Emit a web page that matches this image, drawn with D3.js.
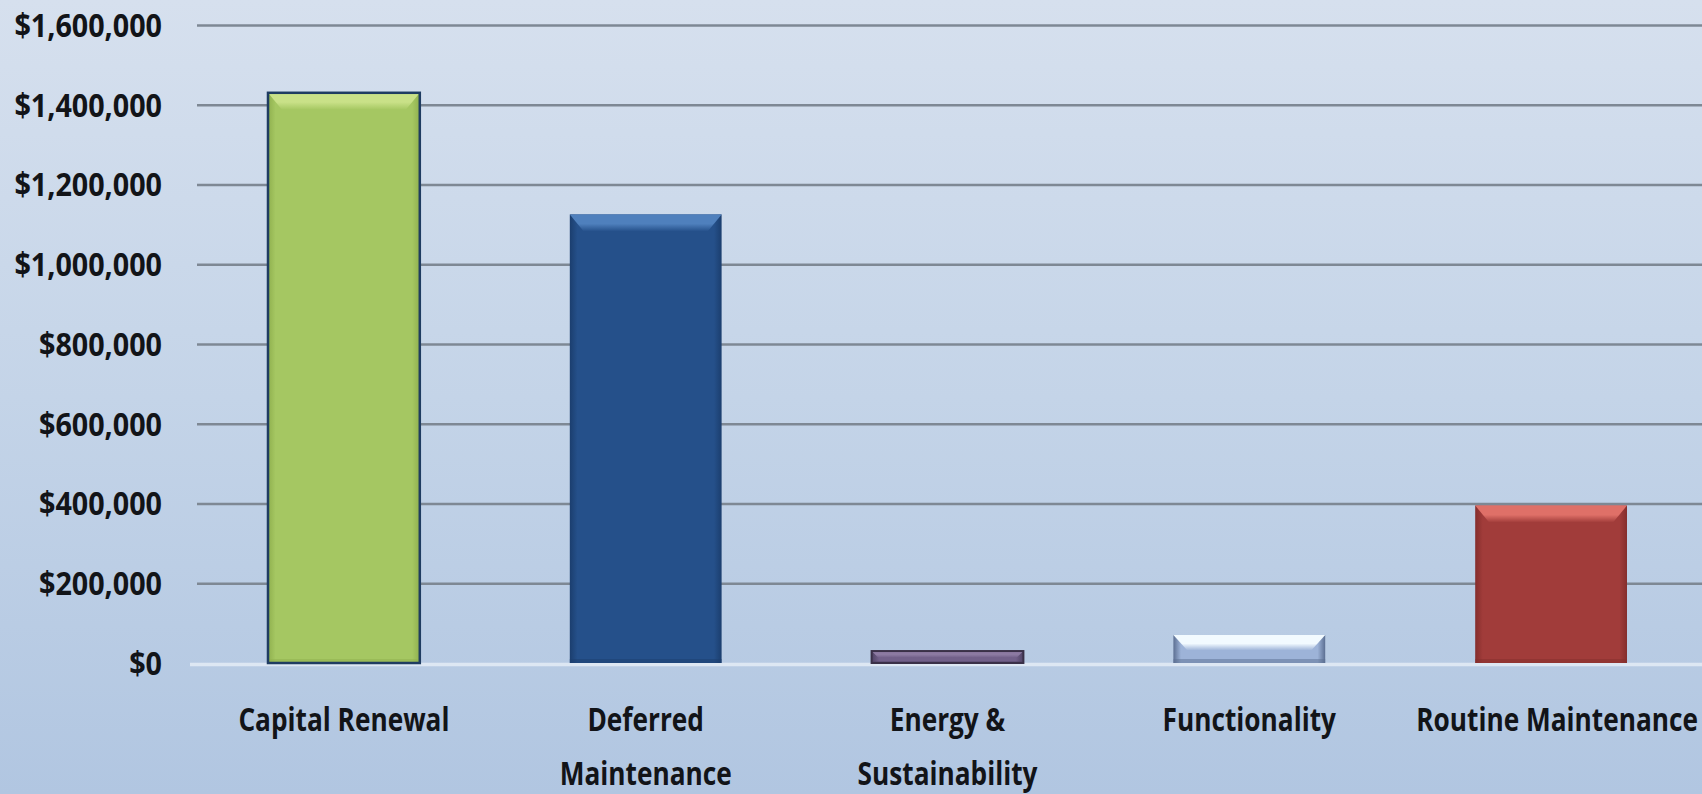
<!DOCTYPE html>
<html>
<head>
<meta charset="utf-8">
<script src="https://cdn.jsdelivr.net/npm/d3@7"></script>
<style>
  html, body { margin: 0; padding: 0; overflow: hidden; }
  svg { display: block; }
</style>
</head>
<body>
<svg id="chart" width="1702" height="794"></svg>
<script>
// Cost by category
const categories = ["Capital Renewal", "Deferred Maintenance", "Energy & Sustainability", "Functionality", "Routine Maintenance"];
const labelLines = [["Capital Renewal"], ["Deferred", "Maintenance"], ["Energy &", "Sustainability"], ["Functionality"], ["Routine Maintenance"]];
const values = [1430000, 1125000, 30000, 70000, 395000];
const tickValues = [0, 200000, 400000, 600000, 800000, 1000000, 1200000, 1400000, 1600000];
const tickLabels = ["$0", "$200,000", "$400,000", "$600,000", "$800,000", "$1,000,000", "$1,200,000", "$1,400,000", "$1,600,000"];

// bar styling: base fill, bevel highlight, edge shade, outline
const barStyles = [
  { fill: "#a5c762", light: "#c9e188", edge: "#8fb04e", stroke: "#1f3c61", sw: 2.5 },
  { fill: "#25508a", light: "#4f80bd", edge: "#1b3e6e", stroke: "none", sw: 0 },
  { fill: "#72608a", light: "#8c7aa2", edge: "#4f4264", stroke: "#3a3048", sw: 2 },
  { fill: "#9db3d8", light: "#f2faff", edge: "#5c6f92", stroke: "none", sw: 0 },
  { fill: "#a13c3a", light: "#df7068", edge: "#842d2c", stroke: "none", sw: 0 }
];

const W = 1702, H = 794;
const gridLeft = 197;
const svg = d3.select("#chart");
const defs = svg.append("defs");

// background wash
const bg = defs.append("linearGradient").attr("id", "bg").attr("x1", 0).attr("y1", 0).attr("x2", 0).attr("y2", 1);
bg.append("stop").attr("offset", "0%").attr("stop-color", "#d6e0ee");
bg.append("stop").attr("offset", "50%").attr("stop-color", "#c4d4e8");
bg.append("stop").attr("offset", "100%").attr("stop-color", "#b1c6e1");
svg.append("rect").attr("width", W).attr("height", H).attr("fill", "url(#bg)");

const x = d3.scaleBand().domain(categories).range([193, 1702]).paddingInner(0.497).paddingOuter(0.2485);
const y = d3.scaleLinear().domain([0, 1600000]).range([663, 25]);

// gridlines
const grid = svg.append("g")
  .attr("transform", `translate(${gridLeft},0)`)
  .call(d3.axisLeft(y).tickValues(tickValues.slice(1)).tickSize(-(W - gridLeft)).tickFormat(""));
grid.select(".domain").remove();
grid.selectAll(".tick line").attr("stroke", "#7e8894").attr("stroke-width", 2.6);

// baseline
svg.append("line")
  .attr("x1", 190).attr("x2", W)
  .attr("y1", y(0) + 1.5).attr("y2", y(0) + 1.5)
  .attr("stroke", "#dde7f3").attr("stroke-width", 3.5);

// y tick labels
const font = "'Open Sans', 'Noto Sans', sans-serif";
tickValues.forEach((d, i) => {
  svg.append("text")
    .attr("transform", `translate(162,${y(d)}) scale(0.87,1)`)
    .attr("text-anchor", "end")
    .attr("dy", "0.36em")
    .attr("font-family", font).attr("font-weight", 700).attr("font-size", 33)
    .attr("fill", "#121418")
    .text(tickLabels[i]);
});

// bars with bevel
categories.forEach((c, i) => {
  const s = barStyles[i];
  const gid = "edge" + i;
  const g = defs.append("linearGradient").attr("id", gid).attr("x1", 0).attr("x2", 1).attr("y1", 0).attr("y2", 0);
  g.append("stop").attr("offset", "0%").attr("stop-color", s.edge);
  g.append("stop").attr("offset", "5%").attr("stop-color", s.fill);
  g.append("stop").attr("offset", "95%").attr("stop-color", s.fill);
  g.append("stop").attr("offset", "100%").attr("stop-color", s.edge);
  const hid = "hi" + i;
  const h = defs.append("linearGradient").attr("id", hid).attr("x1", 0).attr("x2", 0).attr("y1", 0).attr("y2", 1);
  h.append("stop").attr("offset", "0%").attr("stop-color", s.light);
  h.append("stop").attr("offset", "55%").attr("stop-color", s.light);
  h.append("stop").attr("offset", "100%").attr("stop-color", s.fill);

  const bx = x(c), bw = x.bandwidth();
  const top = y(values[i]), bot = y(0);
  const bh = bot - top;
  const bev = Math.min(17, bh * 0.55);
  const side = Math.min(14, bev);

  const bar = svg.append("g").attr("class", "bar");
  bar.append("rect")
    .attr("x", bx).attr("y", top).attr("width", bw).attr("height", bh)
    .attr("fill", `url(#${gid})`);
  bar.append("path")
    .attr("d", `M${bx},${top} L${bx + bw},${top} L${bx + bw - side},${top + bev} L${bx + side},${top + bev} Z`)
    .attr("fill", `url(#${hid})`);
  // subtle bottom shade
  bar.append("rect")
    .attr("x", bx).attr("y", bot - Math.min(4, bh * 0.15)).attr("width", bw).attr("height", Math.min(4, bh * 0.15))
    .attr("fill", s.edge).attr("opacity", 0.5);
  if (s.stroke !== "none") {
    bar.append("rect")
      .attr("x", bx).attr("y", top).attr("width", bw).attr("height", bh)
      .attr("fill", "none").attr("stroke", s.stroke).attr("stroke-width", s.sw);
  }
});

// category labels
categories.forEach((c, i) => {
  const cx = x(c) + x.bandwidth() / 2 + (i === 4 ? 6 : 0);
  labelLines[i].forEach((line, k) => {
    svg.append("text")
      .attr("transform", `translate(${cx},${731 + k * 54}) scale(0.82,1)`)
      .attr("text-anchor", "middle")
      .attr("font-family", font).attr("font-weight", 700).attr("font-size", 32)
      .attr("fill", "#121418")
      .text(line);
  });
});
</script>
</body>
</html>
